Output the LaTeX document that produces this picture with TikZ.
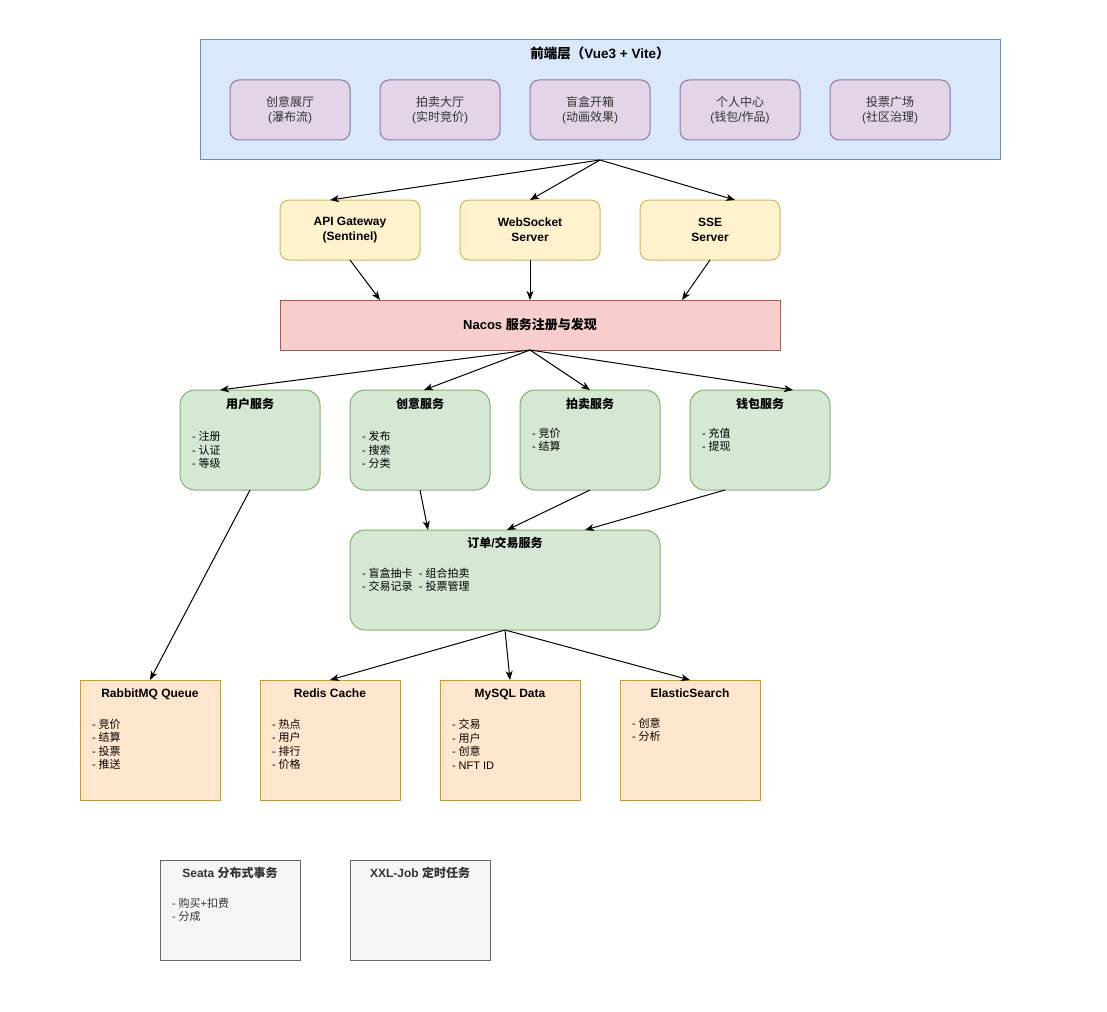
\documentclass[tikz,border=0pt]{standalone}
\usepackage{fontspec}
\setmainfont{Liberation Sans}
\newfontfamily\cjk{Noto Sans CJK SC}
\newcommand{\zh}[1]{{\cjk #1}}
\usetikzlibrary{arrows.meta,calc}
\definecolor{feFill}{HTML}{DAE8FC}\definecolor{feLine}{HTML}{6C8EBF}
\definecolor{puFill}{HTML}{E1D5E7}\definecolor{puLine}{HTML}{9673A6}
\definecolor{yeFill}{HTML}{FFF2CC}\definecolor{yeLine}{HTML}{D6B656}
\definecolor{reFill}{HTML}{F8CECC}\definecolor{reLine}{HTML}{B85450}
\definecolor{grFill}{HTML}{D5E8D4}\definecolor{grLine}{HTML}{82B366}
\definecolor{orFill}{HTML}{FFE6CC}\definecolor{orLine}{HTML}{D79B00}
\definecolor{gyFill}{HTML}{F5F5F5}\definecolor{gyLine}{HTML}{666666}
\definecolor{gyText}{HTML}{333333}
\begin{document}
\begin{tikzpicture}[x=1pt,y=-1pt,
  every node/.style={font=\fontsize{12}{14.5}\selectfont, inner sep=0pt, outer sep=0pt},
  boxbase/.style={draw, line width=1pt, align=center},
  febox/.style={boxbase, fill=feFill, draw=feLine, minimum width=800, minimum height=120},
  pubox/.style={boxbase, fill=puFill, draw=puLine, rounded corners=9pt, minimum width=120, minimum height=60, text=gyText},
  yebox/.style={boxbase, fill=yeFill, draw=yeLine, rounded corners=9pt, minimum width=140, minimum height=60, font=\fontsize{12}{15}\selectfont\bfseries},
  rebox/.style={boxbase, fill=reFill, draw=reLine, minimum width=500, minimum height=50, font=\fontsize{13}{15}\selectfont\bfseries},
  grbox/.style={boxbase, fill=grFill, draw=grLine, rounded corners=15pt, minimum height=100},
  orbox/.style={boxbase, fill=orFill, draw=orLine, minimum width=140, minimum height=120},
  gybox/.style={boxbase, fill=gyFill, draw=gyLine, minimum width=140, minimum height=100},
  ttl/.style={font=\fontsize{12}{14.5}\selectfont\bfseries, text height=8.8pt, text depth=0pt},
  lst/.style={font=\fontsize{11}{13.5}\selectfont, align=left, anchor=west},
  arr/.style={draw, line width=1pt, -{Stealth[length=9pt,width=7pt,inset=2.5pt]}}
]
\useasboundingbox (0,0) rectangle (1107,1011);

% frontend
\node[febox] (fe) at (600,100) {};
\node[ttl, font=\fontsize{13.5}{15}\selectfont\bfseries, text height=10pt] (fetitle) at (600,54) {\zh{前端层（}Vue3 + Vite\zh{）}};
\node[pubox] (p1) at (290,110) {\zh{创意展厅}\\(\zh{瀑布流})};
\node[pubox] (p2) at (440,110) {\zh{拍卖大厅}\\(\zh{实时竞价})};
\node[pubox] (p3) at (590,110) {\zh{盲盒开箱}\\(\zh{动画效果})};
\node[pubox] (p4) at (740,110) {\zh{个人中心}\\(\zh{钱包}/\zh{作品})};
\node[pubox] (p5) at (890,110) {\zh{投票广场}\\(\zh{社区治理})};

% gateways
\node[yebox] (api) at (350,230) {API Gateway\\(Sentinel)};
\node[yebox] (ws) at (530,230) {WebSocket\\Server};
\node[yebox] (sse) at (710,230) {SSE\\Server};

% nacos
\node[rebox] (nacos) at (530,325) {Nacos \zh{服务注册与发现}};

% services
\node[grbox, minimum width=140] (user) at (250,440) {};
\node[ttl] (usert) at (250,404) {\zh{用户服务}};
\node[lst] (userl) at (192,450) {- \zh{注册}\\- \zh{认证}\\- \zh{等级}};
\node[grbox, minimum width=140] (cre) at (420,440) {};
\node[ttl] (cret) at (420,404) {\zh{创意服务}};
\node[lst] (crel) at (362,450) {- \zh{发布}\\- \zh{搜索}\\- \zh{分类}};
\node[grbox, minimum width=140] (auc) at (590,440) {};
\node[ttl] (auct) at (590,404) {\zh{拍卖服务}};
\node[lst] (aucl) at (532,440) {- \zh{竞价}\\- \zh{结算}};
\node[grbox, minimum width=140] (wal) at (760,440) {};
\node[ttl] (walt) at (760,404) {\zh{钱包服务}};
\node[lst] (wall) at (702,440) {- \zh{充值}\\- \zh{提现}};

% order
\node[grbox, minimum width=310] (ord) at (505,580) {};
\node[ttl] (ordt) at (505,543) {\zh{订单}/\zh{交易服务}};
\node[lst] (ordl) at (362,580) {- \zh{盲盒抽卡}\ \ - \zh{组合拍卖}\\- \zh{交易记录}\ \ - \zh{投票管理}};

% storage
\node[orbox] (mq) at (150,740) {};
\node[ttl] (mqt) at (150,693) {RabbitMQ Queue};
\node[lst] (mql) at (92,744.5) {- \zh{竞价}\\- \zh{结算}\\- \zh{投票}\\- \zh{推送}};
\node[orbox] (redis) at (330,740) {};
\node[ttl] (redist) at (330,693) {Redis Cache};
\node[lst] (redisl) at (272,744.5) {- \zh{热点}\\- \zh{用户}\\- \zh{排行}\\- \zh{价格}};
\node[orbox] (mysql) at (510,740) {};
\node[ttl] (mysqlt) at (510,693) {MySQL Data};
\node[lst] (mysqll) at (452,744.5) {- \zh{交易}\\- \zh{用户}\\- \zh{创意}\\- NFT ID};
\node[orbox] (es) at (690,740) {};
\node[ttl] (est) at (690,693) {ElasticSearch};
\node[lst] (esl) at (632,730) {- \zh{创意}\\- \zh{分析}};

% misc
\node[gybox] (seata) at (230,910) {};
\node[ttl, text=gyText] (seatat) at (230,873) {Seata \zh{分布式事务}};
\node[lst, text=gyText] (seatal) at (172,910) {- \zh{购买}+\zh{扣费}\\- \zh{分成}};
\node[gybox] (xxl) at (420,910) {};
\node[ttl, text=gyText] (xxlt) at (420,873) {XXL-Job \zh{定时任务}};

% arrows
\draw[arr] (fe.south) -- ($(api.north)+(-20,0)$);
\draw[arr] (fe.south) -- (ws.north);
\draw[arr] (fe.south) -- ($(sse.north)+(25,0)$);
\draw[arr] (api.south) -- ($(nacos.north)+(-150,0)$);
\draw[arr] (ws.south) -- (nacos.north);
\draw[arr] (sse.south) -- ($(nacos.north)+(152,0)$);
\draw[arr] (nacos.south) -- ($(user.north)+(-30,0)$);
\draw[arr] (nacos.south) -- ($(cre.north)+(4,0)$);
\draw[arr] (nacos.south) -- (auc.north);
\draw[arr] (nacos.south) -- ($(wal.north)+(33,0)$);
\draw[arr] (user.south) -- (mq.north);
\draw[arr] (cre.south) -- ($(ord.north)+(-77,0)$);
\draw[arr] (auc.south) -- ($(ord.north)+(2,0)$);
\draw[arr] ($(wal.south)+(-35,0)$) -- ($(ord.north)+(80,0)$);
\draw[arr] (ord.south) -- (redis.north);
\draw[arr] (ord.south) -- (mysql.north);
\draw[arr] (ord.south) -- (es.north);
\end{tikzpicture}
\end{document}
